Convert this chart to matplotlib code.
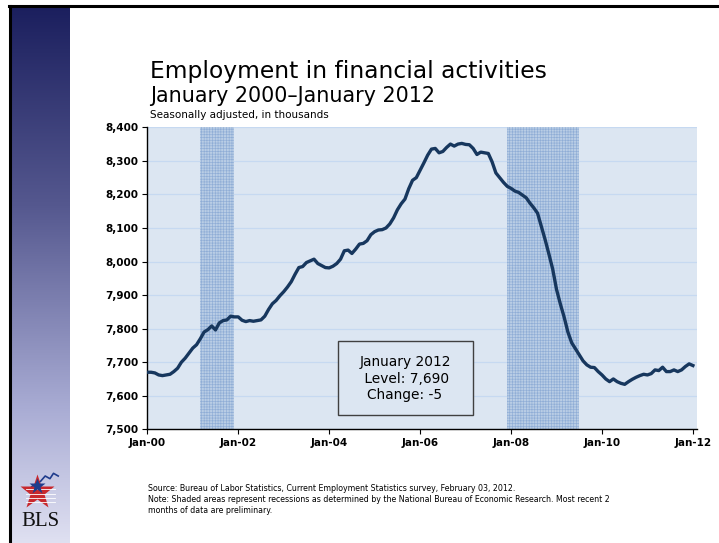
import numpy as np
import matplotlib.pyplot as plt
from matplotlib.patches import Rectangle
from matplotlib.colors import LinearSegmentedColormap

# monthly employment, Jan 2000 .. Jan 2012 (thousands)
employment = [
    7670, 7670, 7668, 7662, 7660, 7662, 7664, 7672, 7682, 7700, 7712, 7727,
    7742, 7752, 7770, 7790, 7797, 7808, 7796, 7817, 7824, 7826, 7837, 7835,
    7835, 7825, 7821, 7824, 7822, 7824, 7826, 7837, 7857, 7874, 7884, 7898,
    7910, 7924, 7940, 7962, 7982, 7985, 7997, 8002, 8007, 7994, 7988, 7982,
    7981, 7986, 7994, 8007, 8032, 8034, 8024, 8037, 8052, 8054, 8062, 8080,
    8089, 8094, 8095, 8100, 8112, 8130, 8154, 8172, 8186, 8217, 8242, 8250,
    8272, 8294, 8317, 8335, 8337, 8324, 8328, 8340, 8350, 8344, 8350, 8352,
    8349, 8348, 8337, 8319, 8326, 8324, 8322, 8297, 8264, 8250, 8236, 8224,
    8218, 8210, 8206, 8198, 8190, 8174, 8160, 8144, 8104, 8065, 8022, 7977,
    7917, 7874, 7835, 7790, 7758, 7740, 7722, 7704, 7692, 7685, 7684, 7672,
    7662, 7650, 7642, 7650, 7642, 7637, 7634, 7642, 7649, 7655, 7660, 7664,
    7662, 7666, 7677, 7675, 7685, 7672, 7672, 7677, 7672, 7677, 7687, 7695,
    7690,
]
tick_months = [0, 24, 48, 72, 96, 120, 144]
tick_labels = ["Jan-00", "Jan-02", "Jan-04", "Jan-06", "Jan-08", "Jan-10", "Jan-12"]
recession_start = [14, 95]
recession_end = [23, 114]
y_ticks = [7500, 7600, 7700, 7800, 7900, 8000, 8100, 8200, 8300, 8400]

plt.rcParams['font.family'] = ['DejaVu Sans']
plt.rcParams['hatch.linewidth'] = 0.45

fig = plt.figure(figsize=(7.19, 5.43), dpi=100)
W, H = 719, 543

# slide frame and sidebar
side = fig.add_axes([11 / W, 0, 59 / W, 1 - 7 / H])
grad = np.linspace(0, 1, 256).reshape(-1, 1)
cmap = LinearSegmentedColormap.from_list(
    "side", [(0, "#1b1f5e"), (0.37, "#55588f"), (0.75, "#a9acd4"), (1, "#dfe0f1")])
side.imshow(grad, aspect="auto", cmap=cmap, extent=[0, 1, 1, 0])
side.set_xlim(0, 1)
side.set_ylim(1, 0)
side.axis("off")
# BLS logo
side.plot([0.35, 0.5, 0.58, 0.66, 0.72, 0.8], [0.895, 0.885, 0.875, 0.88, 0.87, 0.875],
          color="#1f3c8c", lw=1.2)
side.plot([0.44], [0.905], marker="*", markersize=26, color="#c8282d", mec="none")
for yy in [0.9, 0.908, 0.916, 0.924]:
    side.plot([0.25, 0.75], [yy, yy], color="white", lw=0.6)
side.plot([0.44], [0.893], marker="*", markersize=12, color="#1f3c8c", mec="none")
side.text(0.5, 0.96, "BLS", ha="center", va="center", fontsize=15,
          family=["Liberation Serif", "DejaVu Serif"], color="#111111")

fig.add_artist(plt.Line2D([9 / W, 1], [1 - 6 / H, 1 - 6 / H], color="black", lw=2.2))
fig.add_artist(plt.Line2D([9.5 / W, 9.5 / W], [0, 1 - 6 / H], color="black", lw=2.2))

# main chart
ax = fig.add_axes([147.3 / W, 1 - 429.3 / H, 549.4 / W, 302 / H])
ax.set_facecolor("#dce6f2")
x = np.arange(len(employment))
for s, e in zip(recession_start, recession_end):
    ax.axvspan(s, e, facecolor="#b9cde5", edgecolor="#8fadd6", hatch="++++++", lw=0, zorder=1)
ax.plot(x, employment, color="#17375e", lw=2.4, zorder=3, solid_joinstyle="round")

ax.set_xlim(0, 145)
ax.set_ylim(7500, 8400)
ax.set_yticks(y_ticks)
ax.set_yticklabels([f"{v:,}" for v in y_ticks], fontsize=7.5, fontweight="bold")
ax.set_xticks(tick_months)
ax.set_xticklabels(tick_labels, fontsize=7.5, fontweight="bold")
ax.grid(axis="y", color="#c6d9f1", lw=0.9, zorder=0)
ax.set_axisbelow(True)
for sp in ["top", "right"]:
    ax.spines[sp].set_visible(False)
for sp in ["left", "bottom"]:
    ax.spines[sp].set_color("black")
    ax.spines[sp].set_linewidth(1)
ax.tick_params(axis="both", direction="out", length=3.5, width=0.8, pad=3)

ax.add_patch(Rectangle((0.3477, 0.0474), 0.2457, 0.245, transform=ax.transAxes,
                       facecolor="#dce6f2", edgecolor="#404040", lw=1, zorder=4))
ax.text(0.469, 0.168, "January 2012\n Level: 7,690\nChange: -5", transform=ax.transAxes,
        ha="center", va="center", fontsize=9.9, linespacing=1.25, zorder=5)

# titles
fig.text(150 / W, 1 - 78 / H, "Employment in financial activities", fontsize=16.8, va="baseline")
fig.text(150 / W, 1 - 102 / H, "January 2000\u2013January 2012", fontsize=14.9, va="baseline")
fig.text(150 / W, 1 - 117.5 / H, "Seasonally adjusted, in thousands", fontsize=7.5, va="baseline")

fig.text(148 / W, 1 - 491 / H,
         "Source: Bureau of Labor Statistics, Current Employment Statistics survey, February 03, 2012.",
         fontsize=5.7, va="baseline")
fig.text(148 / W, 1 - 502 / H,
         "Note: Shaded areas represent recessions as determined by the National Bureau of Economic Research. Most recent 2",
         fontsize=5.7, va="baseline")
fig.text(148 / W, 1 - 513 / H, "months of data are preliminary.", fontsize=5.7, va="baseline")

fig.savefig("out.png", dpi=100)
